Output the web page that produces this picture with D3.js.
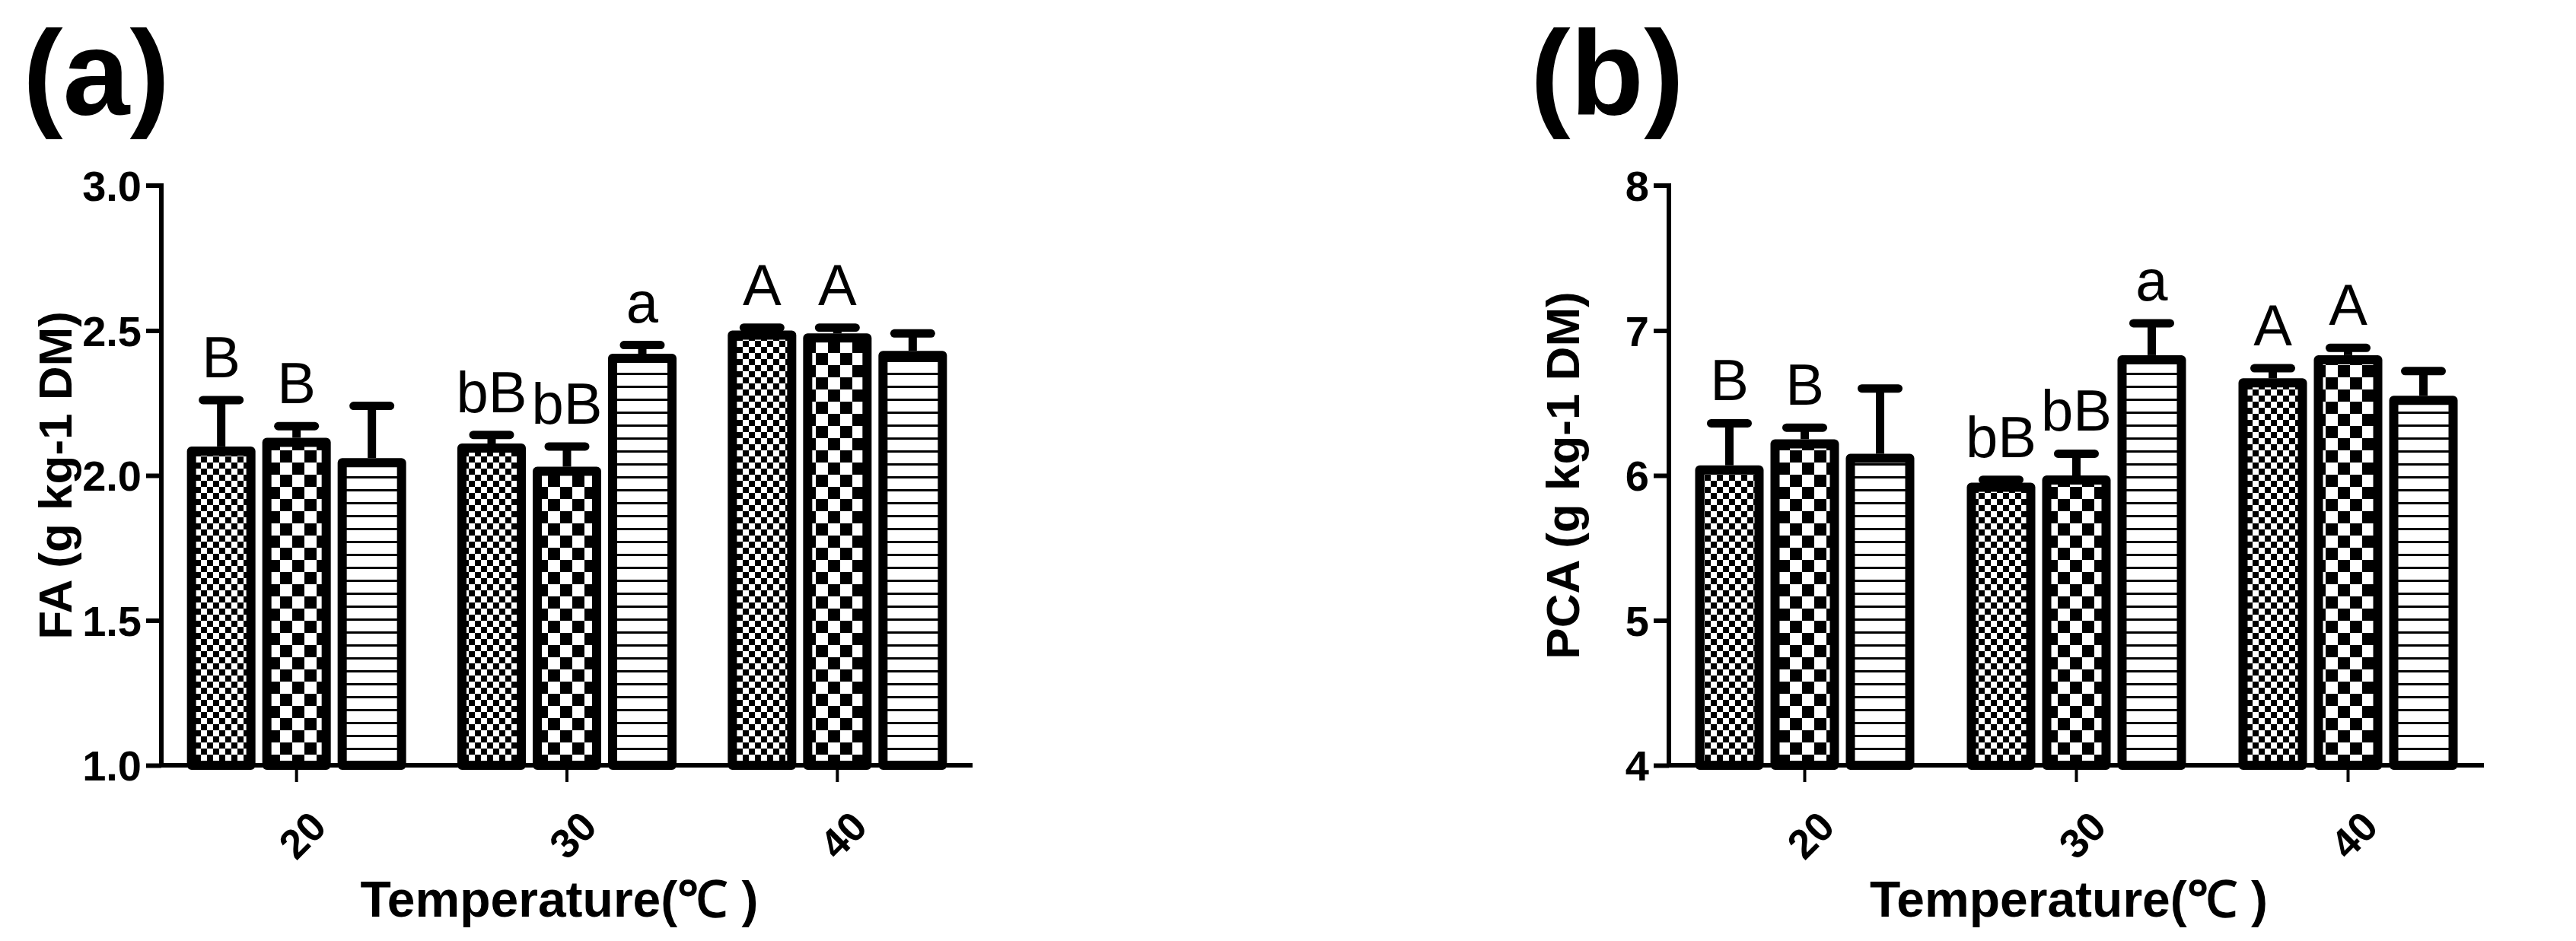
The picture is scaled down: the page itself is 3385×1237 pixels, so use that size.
<!DOCTYPE html>
<html>
<head>
<meta charset="utf-8">
<script src="https://cdn.jsdelivr.net/npm/d3@7"></script>
<style>
  body { margin: 0; background: #fff; }
  svg { display: block; font-family: "Liberation Sans", Arial, sans-serif; }
</style>
</head>
<body>
<svg id="chart" width="3385" height="1237"></svg>
<script>
// Data
const temps = ["20", "30", "40"];
const series = ["s1", "s2", "s3"];

const faMean = [[2.10, 2.13, 2.06], [2.11, 2.03, 2.42], [2.50, 2.49, 2.43]];
const faErr  = [[0.16, 0.04, 0.18], [0.03, 0.07, 0.03], [0.01, 0.02, 0.06]];
const pcaMean = [[6.07, 6.25, 6.15], [5.95, 6.00, 6.83], [6.67, 6.83, 6.55]];
const pcaErr  = [[0.29, 0.08, 0.45], [0.02, 0.15, 0.22], [0.07, 0.05, 0.17]];
const letters = [["B", "B", ""], ["bB", "bB", "a"], ["A", "A", ""]];

const faTicks = [1.0, 1.5, 2.0, 2.5, 3.0];
const pcaTicks = [4, 5, 6, 7, 8];

const svg = d3.select("#chart");
const defs = svg.append("defs");
const narrow = "'Liberation Sans Narrow', 'Liberation Sans', sans-serif";

// fill patterns
function checker(id, s) {
  const p = defs.append("pattern").attr("id", id).attr("patternUnits", "userSpaceOnUse")
    .attr("width", 2 * s).attr("height", 2 * s);
  p.append("rect").attr("width", 2 * s).attr("height", 2 * s).attr("fill", "#fff");
  p.append("rect").attr("width", s).attr("height", s).attr("fill", "#000");
  p.append("rect").attr("x", s).attr("y", s).attr("width", s).attr("height", s).attr("fill", "#000");
}
checker("fine", 8);
checker("coarse", 16);
const st = defs.append("pattern").attr("id", "stripe").attr("patternUnits", "userSpaceOnUse")
  .attr("width", 20).attr("height", 17);
st.append("rect").attr("width", 20).attr("height", 17).attr("fill", "#fff");
st.append("rect").attr("y", 14).attr("width", 20).attr("height", 3).attr("fill", "#000");
const fills = ["url(#fine)", "url(#coarse)", "url(#stripe)"];

function panel(o) {
  const g = svg.append("g");
  const x = d3.scaleBand().domain(temps).range([o.x0, o.x1]);
  const y = d3.scaleLinear().domain(o.domain).range([o.y1, o.y0]);
  const barW = 90, pitch = 99;

  // bars + error bars
  temps.forEach((t, i) => {
    series.forEach((s, j) => {
      const cx = x(t) + x.bandwidth() / 2 + (j - 1) * pitch;
      const v = o.mean[i][j], e = o.err[i][j];
      g.append("line").attr("x1", cx).attr("x2", cx)
        .attr("y1", y(v)).attr("y2", y(v + e))
        .attr("stroke", "#000").attr("stroke-width", 11);
      g.append("line").attr("x1", cx - 24).attr("x2", cx + 24)
        .attr("y1", y(v + e)).attr("y2", y(v + e))
        .attr("stroke", "#000").attr("stroke-width", 11).attr("stroke-linecap", "round");
      g.append("rect").attr("x", cx - barW / 2 + 6).attr("y", y(v) + 6)
        .attr("width", barW - 12).attr("height", y(o.domain[0]) - y(v) - 6)
        .attr("fill", fills[j]).attr("stroke", "#000").attr("stroke-width", 12)
        .attr("stroke-linejoin", "round");
      if (letters[i][j]) {
        g.append("text").attr("x", cx).attr("y", y(v + e) - 30)
          .attr("text-anchor", "middle").attr("font-size", 76).text(letters[i][j]);
      }
    });
  });

  // y axis
  const ya = g.append("g").attr("transform", `translate(${o.x0},0)`)
    .call(d3.axisLeft(y).tickValues(o.ticks).tickFormat(o.fmt).tickSize(20).tickPadding(6));
  ya.select(".domain").attr("stroke-width", 6).attr("d", `M-20,${o.y0}H0V${o.y1}`);
  ya.selectAll(".tick line").attr("stroke-width", 6);
  ya.selectAll(".tick text").attr("font-size", 56).attr("font-weight", "bold")
    .attr("dy", "0.35em").attr("font-family", narrow);
  ya.selectAll(".tick").filter(d => d === o.domain[1]).select("line").remove();

  // x axis
  const xa = g.append("g").attr("transform", `translate(0,${o.y1})`)
    .call(d3.axisBottom(x).tickSize(22).tickPadding(0));
  xa.select(".domain").attr("stroke-width", 6).attr("d", `M${o.x0},0H${o.x1}`);
  xa.selectAll(".tick line").attr("stroke-width", 4).attr("y1", 3);
  xa.selectAll(".tick text").attr("font-size", 54).attr("font-weight", "bold")
    .attr("font-family", narrow)
    .attr("transform", "translate(-8,76) rotate(-45)").attr("dy", "0.35em")
    .attr("text-anchor", "middle");

  svg.append("text").attr("x", (o.x0 + o.x1) / 2 - 10).attr("y", 1205)
    .attr("text-anchor", "middle").attr("font-size", 66).attr("font-weight", "bold")
    .attr("font-family", narrow)
    .text("Temperature(℃ )");
  svg.append("text").attr("transform", `translate(${o.x0 - 118},${(o.y0 + o.y1) / 2}) rotate(-90)`)
    .attr("text-anchor", "middle").attr("font-size", 62).attr("font-weight", "bold")
    .text(o.ylabel);
  svg.append("text").attr("x", o.x0 - 182).attr("y", 150)
    .attr("font-size", 158).attr("font-weight", "bold").attr("font-family", narrow).text(o.tag);
}

panel({ x0: 212, x1: 1278, y0: 244, y1: 1006, domain: [1, 3], ticks: faTicks,
  fmt: d3.format(".1f"), mean: faMean, err: faErr, ylabel: "FA (g kg-1 DM)", tag: "(a)" });
panel({ x0: 2193, x1: 3264, y0: 244, y1: 1006, domain: [4, 8], ticks: pcaTicks,
  fmt: d3.format("d"), mean: pcaMean, err: pcaErr, ylabel: "PCA (g kg-1 DM)", tag: "(b)" });
</script>
</body>
</html>
